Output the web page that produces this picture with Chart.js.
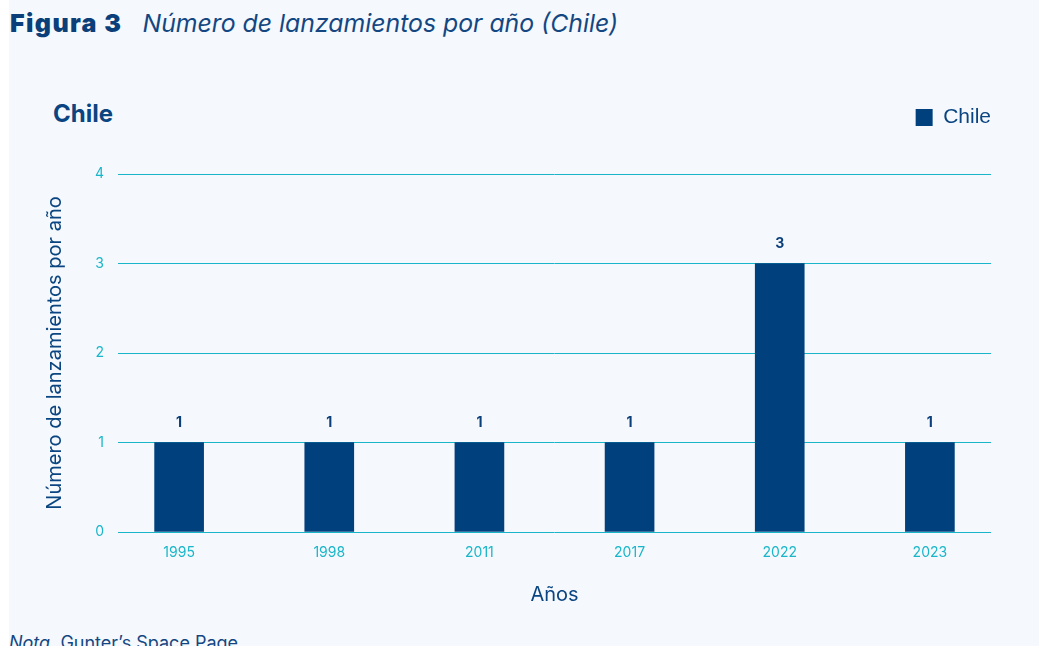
<!DOCTYPE html>
<html>
<head>
<meta charset="utf-8">
<script src="https://cdn.jsdelivr.net/npm/chart.js@4.4.1/dist/chart.umd.min.js"></script>
<style>
  html, body { margin: 0; padding: 0; width: 1039px; height: 646px; overflow: hidden; background: #ffffff; font-family: Inter, "Liberation Sans", sans-serif; }
  #panel { position: absolute; left: 9px; top: 0; width: 1030px; height: 646px; background: #f5f9fd; }
  #fig { position: absolute; left: 10px; top: 8px; color: #0b3f7a; font-size: 25px; white-space: nowrap; }
  #fig b { font-weight: 900; letter-spacing: 1.4px; margin-right: 20px; }
  #fig i { font-weight: 400; color: #144782; font-size: 24.8px; }
  #sub { position: absolute; left: 53px; top: 99px; color: #0b4581; font-size: 24px; font-weight: 700; }
  #wrap { position: absolute; left: 9px; top: 95px; width: 1030px; height: 520px; }
  #nota { position: absolute; left: 9px; top: 632px; color: #144782; font-size: 18px; white-space: nowrap; }
</style>
</head>
<body>
<div id="panel"></div>
<div id="fig"><b>Figura 3</b><i>Número de lanzamientos por año (Chile)</i></div>
<div id="sub">Chile</div>
<div id="wrap"><canvas id="myChart"></canvas></div>
<div id="nota"><i>Nota.</i> Gunter’s Space Page</div>
<script>
var years = ['1995', '1998', '2011', '2017', '2022', '2023'];
var launches = [1, 1, 1, 1, 3, 1];
var yTicks = [0, 1, 2, 3, 4];

var darkBlue = '#00417d';
var cyan = '#19b6c9';
var font = 'Inter, "Liberation Sans", sans-serif';

// value above each bar
var barLabels = {
    id: 'barLabels',
    afterDatasetsDraw: function(chart) {
        var ctx = chart.ctx;
        ctx.save();
        ctx.font = 'bold 14px ' + font;
        ctx.fillStyle = '#0b3f7a';
        ctx.textAlign = 'center';
        ctx.textBaseline = 'middle';
        chart.getDatasetMeta(0).data.forEach(function(bar, i) {
            ctx.fillText(launches[i], bar.x, bar.y - 20);
        });
        ctx.restore();
    }
};

// leave room between legend and plot, push legend to the right edge of the grid
var legendGap = {
    id: 'legendGap',
    afterInit: function(chart) {
        var fit = chart.legend.fit;
        chart.legend.fit = function() {
            fit.call(this);
            this.height = 79;
        };
    },
    afterLayout: function(chart) {
        chart.legend.right += 10;
        chart.legend.width += 10;
        chart.legend.top += 2;
    }
};

document.addEventListener('DOMContentLoaded', function() {
    var ctx = document.getElementById('myChart').getContext('2d');

    var myChart = new Chart(ctx, {
        type: 'bar',
        data: {
            datasets: [{
                label: 'Chile',
                data: launches.map(function(v, i) { return { x: i, y: v }; }),
                backgroundColor: darkBlue,
                borderWidth: 0,
                barThickness: 49
            }]
        },
        options: {
            responsive: true,
            maintainAspectRatio: false,
            animation: false,
            layout: { padding: { left: 30, right: 48, top: 0, bottom: 0 } },
            plugins: {
                legend: {
                    position: 'top',
                    align: 'end',
                    labels: {
                        boxWidth: 17,
                        boxHeight: 17,
                        padding: 10,
                        color: '#0b4581',
                        font: { size: 21, family: '"Liberation Sans", Arial, sans-serif' }
                    }
                },
                tooltip: { enabled: false }
            },
            scales: {
                x: {
                    type: 'linear',
                    offset: false,
                    min: -0.407,
                    max: 5.407,
                    afterBuildTicks: function(scale) {
                        scale.ticks = years.map(function(y, i) { return { value: i }; });
                    },
                    grid: { display: false, drawTicks: false },
                    border: { display: false },
                    ticks: {
                        color: cyan,
                        padding: 12,
                        font: { size: 14, family: font },
                        callback: function(v) { return years[v]; }
                    },
                    title: {
                        display: true,
                        text: 'Años',
                        color: '#0b4581',
                        padding: { top: 20, bottom: 8 },
                        font: { size: 20, family: font }
                    },
                    afterFit: function(scale) { scale.height = 83; }
                },
                y: {
                    min: 0,
                    max: 4,
                    afterBuildTicks: function(scale) {
                        scale.ticks = yTicks.map(function(v) { return { value: v }; });
                    },
                    grid: { color: cyan, lineWidth: 1, drawTicks: false },
                    border: { display: false },
                    ticks: { color: cyan, padding: 14, font: { size: 14, family: font } },
                    title: {
                        display: true,
                        text: 'Número de lanzamientos por año',
                        color: '#0b4581',
                        padding: { top: 4, bottom: 0 },
                        font: { size: 20, family: font }
                    },
                    afterFit: function(scale) { scale.width = 79; }
                }
            }
        },
        plugins: [barLabels, legendGap]
    });
});
</script>
</body>
</html>
